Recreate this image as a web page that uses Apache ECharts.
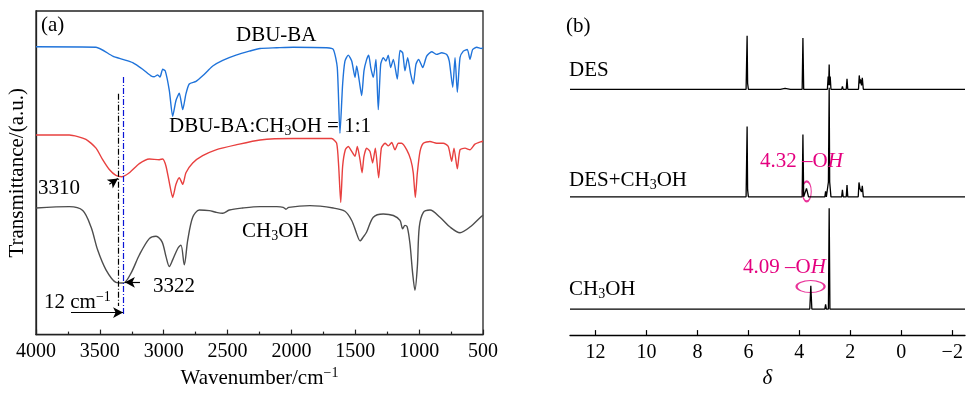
<!DOCTYPE html>
<html><head><meta charset="utf-8">
<script src="https://cdn.jsdelivr.net/npm/echarts@6/dist/echarts.min.js"></script>
<style>html,body{margin:0;padding:0;background:#fff}#c{width:968px;height:394px}</style>
</head><body><div id="c"></div>
<script>
// ---------- Panel (a): FTIR (wavenumber cm-1, transmittance a.u., curves stacked) ----------
const wnTicks = [4000, 3500, 3000, 2500, 2000, 1500, 1000, 500];
const dbuBA = [[4000,291.7],[3530,291.3],[3399,282.3],[3321,279],[3243,275.7],[3165,269],[3100,262.3],[3074,261.3],[3047,263.3],[3029,261],[3008,269],[2988,267.3],[2956,247.3],[2930,221.3],[2904,237.3],[2878,244.7],[2851,228],[2826,244],[2800,254],[2747,256.7],[2695,262.3],[2656,267.3],[2616,272.3],[2538,278],[2434,283.3],[2330,287.3],[2246,290],[2115,290.7],[1985,291.3],[1724,290.7],[1672,289],[1641,270.7],[1620,204],[1599,254],[1581,277.3],[1555,283.3],[1528,277.3],[1502,260.7],[1489,272.3],[1469,257.3],[1450,242.3],[1432,267.3],[1411,279],[1395,283.3],[1379,270.7],[1359,260.7],[1338,279],[1320,228],[1301,274],[1281,280.7],[1260,277.3],[1242,283.3],[1223,270.7],[1202,279],[1171,259],[1150,288],[1129,285.7],[1111,267.3],[1090,280.7],[1066,264],[1046,254],[1025,274],[1004,279],[972,270.7],[941,282.3],[902,286.7],[863,284],[823,285.7],[784,284],[764,277.3],[737,250.7],[719,280.7],[701,245.7],[680,280.7],[654,287.3],[623,289],[602,279],[581,289],[549,291.3],[513,290],[500,291]];
const dbuBAMeOH = [[4000,202.3],[3739,202.3],[3609,198],[3530,189],[3478,177.3],[3426,167.3],[3374,161.3],[3327,160],[3269,164],[3191,173.3],[3113,178],[3035,177.3],[3008,178],[2982,170.7],[2956,154],[2930,139],[2904,152.3],[2878,159],[2851,152.3],[2826,164],[2773,174],[2695,181.3],[2591,187.3],[2434,192.3],[2246,197.3],[1985,198.7],[1685,198.7],[1646,194],[1630,170.7],[1614,134],[1599,170.7],[1578,187.3],[1555,190.7],[1528,185.7],[1502,180.7],[1484,190.7],[1463,177.3],[1447,164],[1432,180.7],[1411,189],[1385,185.7],[1364,174],[1343,189],[1317,159],[1296,189],[1267,194],[1241,191.3],[1215,194.7],[1189,187.3],[1163,194],[1137,194],[1097,187.3],[1066,177.3],[1046,164],[1030,139],[1014,164],[993,185.7],[967,194],[915,195.7],[863,194],[811,194],[772,190.7],[745,175.7],[727,189],[701,168],[680,187.3],[641,189],[602,187.3],[563,193],[510,195.7],[500,196]];
const methanolIR = [[4000,128.3],[3739,129.7],[3634,125.7],[3569,109],[3517,85.7],[3452,65.7],[3374,53],[3316,52.3],[3256,62.3],[3191,80.7],[3113,97.3],[3060,99.7],[3013,94],[2982,79],[2956,69],[2930,75.7],[2890,87.3],[2865,90.7],[2839,70.7],[2812,95.7],[2773,119],[2721,126.3],[2643,125.7],[2591,124],[2538,123],[2486,126.3],[2382,128.3],[2246,129.7],[2115,129.7],[2064,129],[2043,127],[2021,129],[1855,130.7],[1672,128.3],[1581,125],[1528,115.7],[1489,102.3],[1463,95],[1437,99],[1411,104],[1359,119],[1281,122.3],[1202,120.7],[1150,115.7],[1129,107.3],[1111,110.7],[1093,109],[1072,92.3],[1051,62.3],[1033,45],[1014,69],[999,109],[967,124],[915,126.3],[837,119],[758,109],[680,103.3],[602,109],[513,119.7],[500,121]];
// guide lines / arrows in data units [wavenumber, a.u.]
const guideBlack = [[3354,244],[3354,29]];
const guideBlue = [[3315,261],[3315,20]];
const arrowShift = [[3726,22.3],[3318,22.3]];
const arrow3310 = [[3426,152.3],[3358,158.3]];
const arrow3322 = [[3186,53],[3304,53]];

// ---------- Panel (b): 1H NMR (delta ppm, intensity above each baseline) ----------
const deltaTicks = [12, 10, 8, 6, 4, 2, 0, -2];
const nmrDES = [[13,0],[6.09,0],[6.05,54],[6.03,6],[6.0,0],[4.75,0],[4.56,1],[4.35,0],[3.89,0],[3.86,51.7],[3.83,0],[2.9,0],[2.87,13],[2.85,4],[2.83,25],[2.81,4],[2.79,13],[2.76,0],[2.34,0],[2.31,3],[2.28,0],[2.16,0],[2.13,10.7],[2.10,0],[1.68,0],[1.65,14],[1.62,6],[1.60,10],[1.56,4],[1.53,11.7],[1.49,0],[-2.5,0]];
const nmrDESMeOH = [[13,0],[6.09,0],[6.05,71],[6.03,7],[6.0,0],[3.89,0],[3.86,63],[3.83,0],[3.80,0],[3.72,8.5],[3.64,0],[3.0,0],[2.97,5.5],[2.94,0],[2.88,0],[2.86,15],[2.83,110],[2.81,15],[2.79,15],[2.76,0],[2.34,0],[2.31,7],[2.28,0],[2.16,0],[2.13,12],[2.10,0],[1.69,0],[1.66,14.5],[1.62,8],[1.59,10],[1.56,5],[1.53,11],[1.49,0],[0.4,0],[0.36,1],[0.32,0],[-2.5,0]];
const nmrMeOH = [[13,0],[3.59,0],[3.55,23.4],[3.51,0],[3.0,0],[2.97,4.7],[2.94,0],[2.86,0],[2.83,101.7],[2.80,0],[2.33,0],[2.30,1],[2.27,0],[-2.5,0]];
const nmrOffsets = {DES: 248, DESMeOH: 139.5, MeOH: 26.3};
const ohMarks = [[3.71, 5.5], [3.56, 22.7]]; // circled -OH peaks (delta, height above baseline)

const FONT = "'Liberation Serif','Times New Roman',serif";
const MAG = '#E4007F';
const richBase = (color) => ({
  n: {fontFamily: FONT, fontSize: 21, color: color, lineHeight: 24},
  i: {fontFamily: FONT, fontSize: 21, color: color, lineHeight: 24, fontStyle: 'italic'},
  s: {fontFamily: FONT, fontSize: 14, color: color, lineHeight: 13, verticalAlign: 'bottom'},
  p: {fontFamily: FONT, fontSize: 14, color: color, lineHeight: 13, verticalAlign: 'top'}
});
function label(text, left, top, color) {
  return {text: text, left: left, top: top, padding: 0, itemGap: 0,
    textStyle: {fontFamily: FONT, fontSize: 21, fontWeight: 'normal', color: color || '#000', rich: richBase(color || '#000')}};
}
const shift = (arr, off) => arr.map(p => [p[0], p[1] + off]);

const chart = echarts.init(document.getElementById('c'), null, {renderer: 'canvas'});
const axisCol = '#222';
const seg = (pts, color, type, endSym) => [
  {coord: pts[0], symbol: 'none', lineStyle: {color: color, type: type, width: 1.2}},
  {coord: pts[1], symbol: endSym || 'none'}
];
chart.setOption({
  animation: false,
  backgroundColor: '#fff',
  title: [
    label('{n|(a)}', 41, 13),
    label('{n|DBU-BA}', 236, 23),
    label('{n|DBU-BA:CH}{s|3}{n|OH = 1:1}', 169, 114),
    label('{n|3310}', 38, 176),
    label('{n|3322}', 153, 274),
    label('{n|12 cm}{p|−1}', 44, 290),
    label('{n|CH}{s|3}{n|OH}', 242, 219),
    label('{n|(b)}', 566, 14),
    label('{n|DES}', 569, 58),
    label('{n|DES+CH}{s|3}{n|OH}', 569, 168),
    label('{n|CH}{s|3}{n|OH}', 569, 277),
    label('{n|4.32 –O}{i|H}', 760, 149, MAG),
    label('{n|4.09 –O}{i|H}', 743, 255, MAG)
  ],
  grid: [
    {left: 36, right: 485, top: 11, bottom: 55, show: true, borderColor: axisCol, borderWidth: 1.3, containLabel: false},
    {left: 570, right: 3, top: 11, bottom: 56, show: false, containLabel: false}
  ],
  xAxis: [
    {gridIndex: 0, type: 'value', min: 500, max: 4000, interval: 500, inverse: true,
      axisLine: {show: true, onZero: false, lineStyle: {color: axisCol, width: 1.3}},
      axisTick: {show: true, inside: true, length: 5, lineStyle: {color: axisCol, width: 1.2}},
      minorTick: {show: true, splitNumber: 2, length: 3, lineStyle: {color: axisCol, width: 1.2}},
      splitLine: {show: false},
      axisLabel: {fontFamily: FONT, fontSize: 20, color: '#000', margin: 7, formatter: v => String(v)},
      name: '{n|Wavenumber/cm}{p|−1}', nameLocation: 'middle', nameGap: 27,
      nameTextStyle: {fontFamily: FONT, fontSize: 21, color: '#000', rich: richBase('#000')}},
    {gridIndex: 1, type: 'value', min: -2.5, max: 13, inverse: true,
      axisLine: {show: true, onZero: false, lineStyle: {color: '#000', width: 1.3}},
      axisTick: {show: true, inside: true, length: 5, customValues: deltaTicks, lineStyle: {color: '#000', width: 1.2}},
      splitLine: {show: false},
      axisLabel: {fontFamily: FONT, fontSize: 20, color: '#000', margin: 8, customValues: deltaTicks,
        formatter: v => String(v).replace('-', '−')},
      name: 'δ', nameLocation: 'middle', nameGap: 31,
      nameTextStyle: {fontFamily: FONT, fontSize: 21, color: '#000', fontStyle: 'italic'}}
  ],
  yAxis: [
    {gridIndex: 0, type: 'value', min: 0, max: 328,
      axisLine: {show: true, onZero: false, lineStyle: {color: axisCol, width: 1.3}},
      axisTick: {show: false}, axisLabel: {show: false}, splitLine: {show: false},
      name: 'Transmittance/(a.u.)', nameLocation: 'middle', nameGap: 8, nameRotate: 90,
      nameTextStyle: {fontFamily: FONT, fontSize: 21, color: '#000'}},
    {gridIndex: 1, type: 'value', min: 0, max: 327, show: false}
  ],
  series: [
    {type: 'line', xAxisIndex: 0, yAxisIndex: 0, data: dbuBA, showSymbol: false, smooth: 0.2,
      lineStyle: {color: '#1F73DA', width: 1.4}},
    {type: 'line', xAxisIndex: 0, yAxisIndex: 0, data: dbuBAMeOH, showSymbol: false, smooth: 0.2,
      lineStyle: {color: '#E8403F', width: 1.4}},
    {type: 'line', xAxisIndex: 0, yAxisIndex: 0, data: methanolIR, showSymbol: false, smooth: 0.3,
      lineStyle: {color: '#4D4D4D', width: 1.4},
      markLine: {silent: true, animation: false, label: {show: false}, symbolSize: [8, 10],
        data: [
          seg(guideBlack, '#000', [6, 2, 1, 2]),
          seg(guideBlue, '#0A14D6', [6, 2, 1, 2]),
          seg(arrowShift, '#000', 'solid', 'arrow'),
          seg(arrow3310, '#000', 'solid', 'arrow'),
          seg(arrow3322, '#000', 'solid', 'arrow')
        ]}},
    {type: 'line', xAxisIndex: 1, yAxisIndex: 1, data: shift(nmrDES, nmrOffsets.DES), showSymbol: false,
      lineStyle: {color: '#000', width: 1.3}},
    {type: 'line', xAxisIndex: 1, yAxisIndex: 1, data: shift(nmrDESMeOH, nmrOffsets.DESMeOH), showSymbol: false,
      lineStyle: {color: '#000', width: 1.3}},
    {type: 'line', xAxisIndex: 1, yAxisIndex: 1, data: shift(nmrMeOH, nmrOffsets.MeOH), showSymbol: false,
      lineStyle: {color: '#000', width: 1.3}},
    {type: 'scatter', xAxisIndex: 1, yAxisIndex: 1, symbol: 'circle', silent: true,
      data: [
        {value: [ohMarks[0][0], ohMarks[0][1] + nmrOffsets.DESMeOH], symbolSize: [9, 20]},
        {value: [ohMarks[1][0], ohMarks[1][1] + nmrOffsets.MeOH], symbolSize: [28, 12]}
      ],
      itemStyle: {color: 'rgba(0,0,0,0)', borderColor: MAG, borderWidth: 1.5}}
  ]
});
</script></body></html>
